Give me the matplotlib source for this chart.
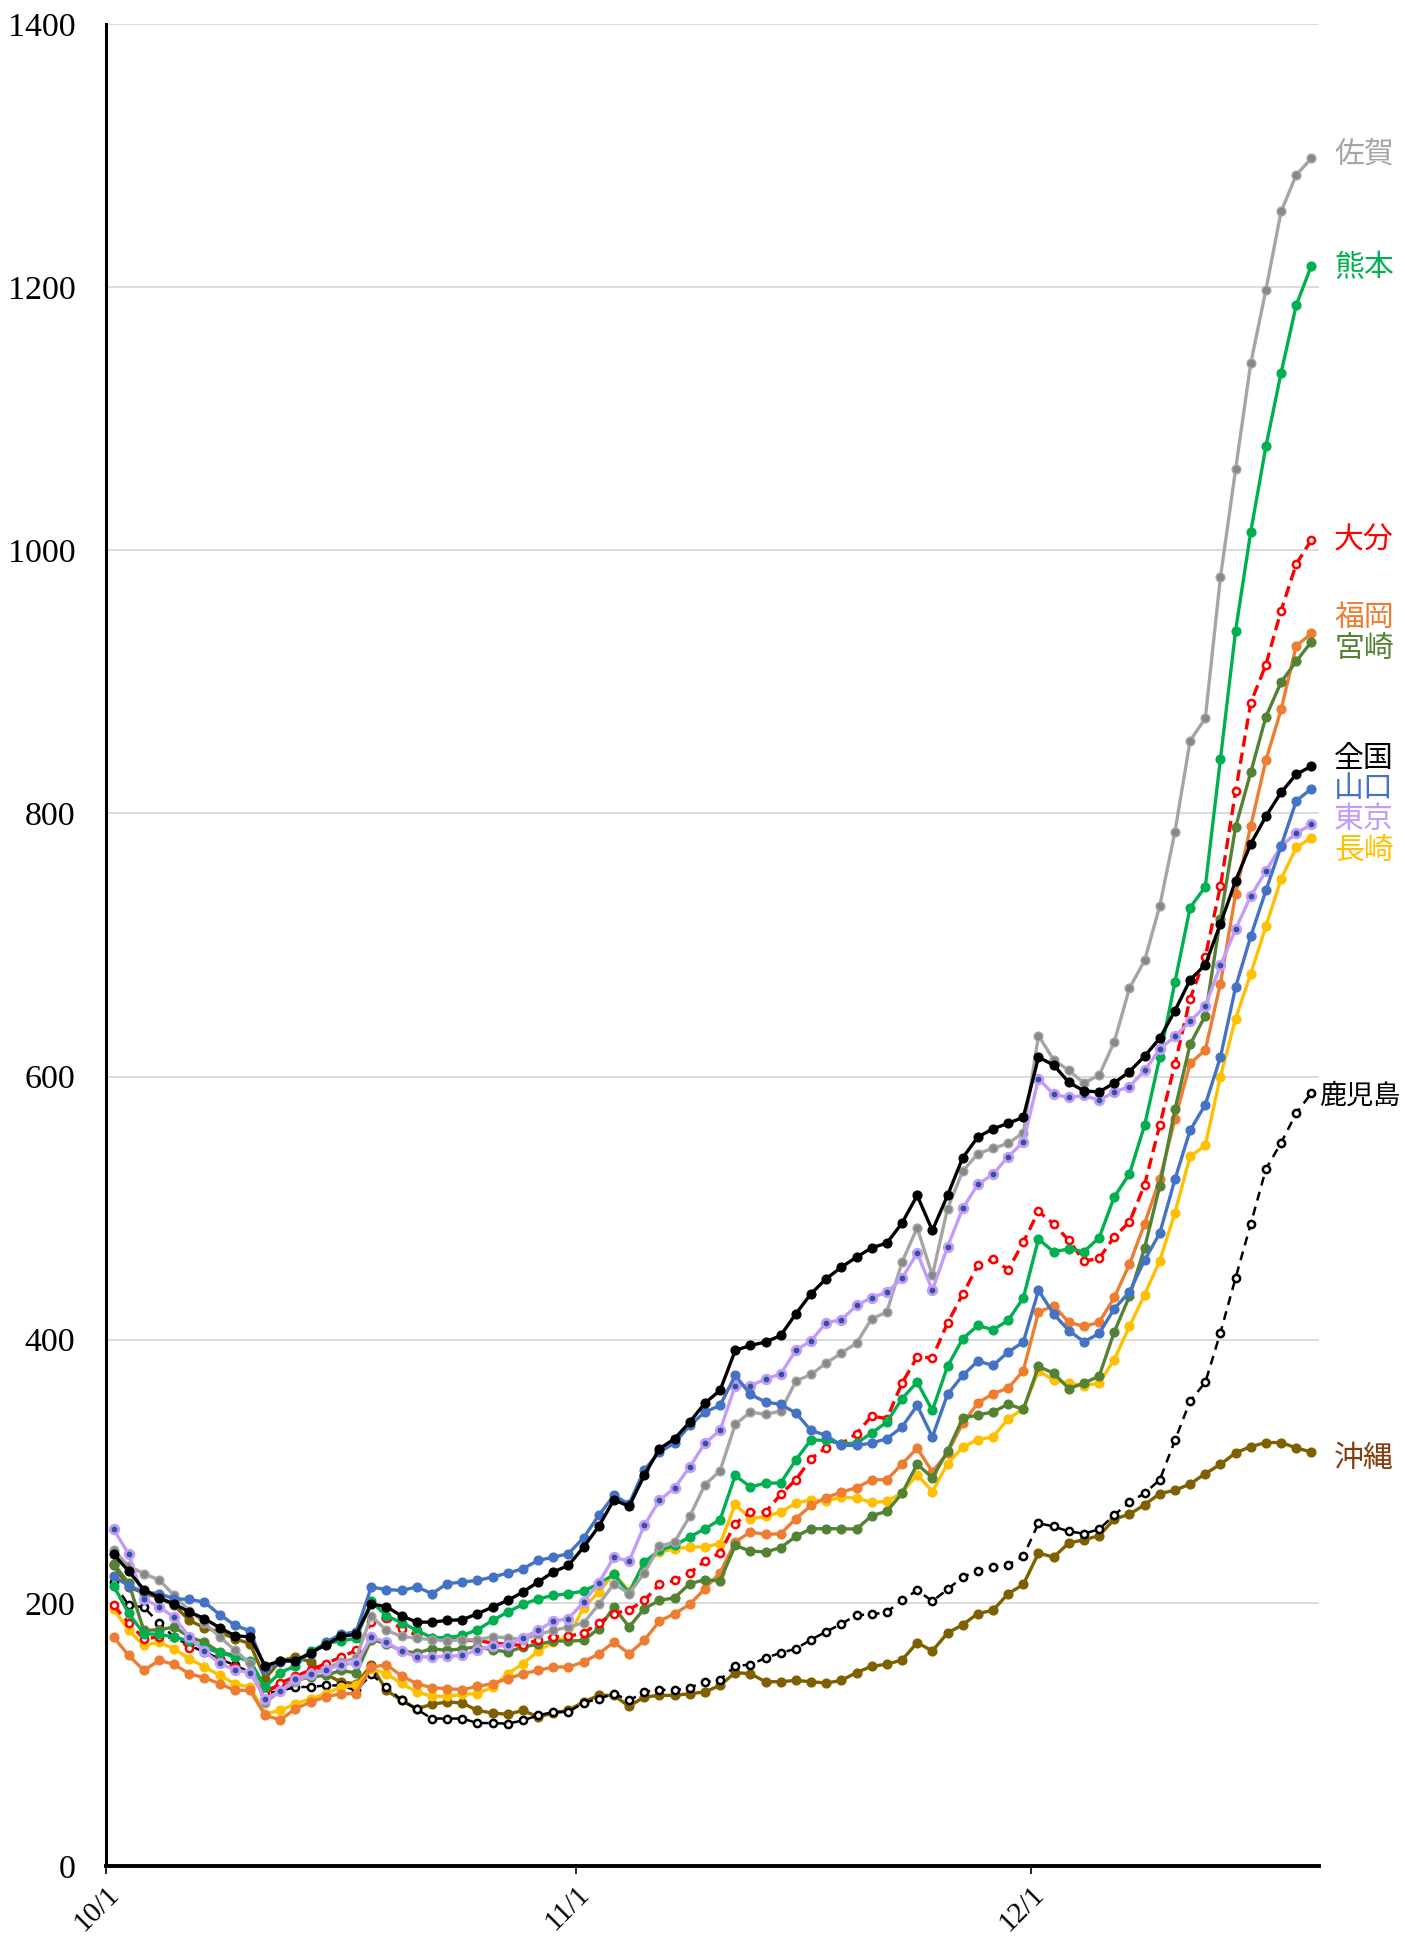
import matplotlib
matplotlib.use("Agg")
import matplotlib.pyplot as plt
import matplotlib.dates as mdates
import numpy as np

# daily values, 10/1 .. 12/19
zenkoku = [237, 224, 210, 204, 199, 193, 188, 181, 175, 174, 152, 156, 156, 162, 168, 174.5, 176, 199, 197, 190,
           185.3, 185.3, 186.6, 187.1, 191.7, 196.7, 201.8, 208.2, 215.8, 223.4, 228.4, 242.3, 258, 278.3, 273.3, 296.8, 317, 324.7, 337.3, 351.8,
           361.4, 391.8, 395.6, 398.2, 403.2, 419.7, 434.9, 446.3, 455.1, 462.7, 469.8, 473.4, 488.6, 509.6, 483, 509.6, 538.2, 554, 560.3, 564.4,
           569.1, 614.7, 608.7, 595.6, 589, 588.3, 595.1, 603.8, 615.5, 629.1, 650.1, 673.5, 684.9, 716.2, 748.8, 776.9, 797.8, 816, 829.7, 835.9]
yamaguchi = [220, 213, 208, 207, 203, 202.6, 200.5, 191, 183, 178.5, 150, 155, 156, 161, 170, 176, 178, 212, 210, 209.4,
             212, 207, 214.5, 215.8, 217, 219.6, 222.6, 225.9, 232.2, 234.7, 237.3, 249.4, 266.4, 281.6, 275, 301, 314.5, 321.4, 334.8, 345,
             350, 372.8, 358.4, 352.6, 350.8, 344.2, 331, 327.2, 319.6, 319.6, 321.4, 324.7, 333.6, 350, 326, 358.4, 372.8, 383.7, 380.4, 390.6,
             398.2, 437.5, 419.5, 406.9, 398.4, 404.7, 423.6, 436.2, 460.5, 481, 521.9, 559.1, 578.6, 614.8, 668, 706.7, 741.5, 775.2, 809.5, 818.8]
tokyo = [256, 237, 203, 197, 189, 174, 163, 154, 149, 147, 127, 133, 142, 146, 149, 153, 154, 174, 170, 163,
         159, 158.8, 159.3, 160, 164.3, 166.9, 167.6, 173.5, 179, 186.1, 187.9, 200.6, 215, 234.8, 231.5, 258.8, 277.8, 287.4, 303.2, 321.4,
         331, 365, 365, 370, 374, 392, 399, 413, 415, 426, 432, 436, 446.5, 466, 437.5, 470.5, 499.7, 518, 525.7, 539.2,
         550.2, 598.4, 586.4, 584.2, 585.6, 582, 588.3, 592.4, 604.6, 620.9, 630.5, 641.9, 653.6, 684.4, 712.1, 737.1, 756.2, 775.2, 785, 791.6]
nagasaki = [195.5, 179, 167.6, 170, 165, 157.5, 151.2, 144.8, 138.5, 136, 115.5, 118.2, 123.3, 127, 130.9, 136, 137.2, 149.9, 146, 138.7,
            132.2, 128.9, 128.9, 130.4, 130.9, 136, 146.1, 153.7, 163.3, 170.1, 174.5, 196.2, 208.2, 222.1, 208.9, 229.7, 238.5, 241.1, 242.3, 242.5,
            245, 274.8, 263.9, 265.7, 268.9, 275.8, 278.3, 277.3, 280.4, 279.5, 276.4, 277, 283.6, 297.4, 284.5, 305.7, 318.3, 324, 326.2, 339.8,
            347.3, 376.4, 369.1, 366.9, 365, 366.9, 384.9, 410.1, 434.3, 460, 496.6, 539.3, 547.6, 600, 644.1, 678.1, 714.3, 750.2, 774.1, 781.5]
fukuoka = [173.9, 160, 148.6, 156.2, 153.2, 146, 143, 138.5, 133.4, 133.4, 114.4, 111, 119.5, 124.6, 128.4, 131, 131, 151, 152.9, 144.4,
           138.5, 135.5, 134.7, 134, 136.5, 138.5, 142.3, 146.1, 148.6, 151.2, 151.2, 155, 161.3, 170.1, 161.3, 171.4, 186.1, 191.7, 198.8, 210.7,
           222.8, 246.2, 253.8, 252, 252.5, 263.9, 274, 279.9, 284.2, 287.4, 293.5, 293.5, 305.5, 317.5, 299.6, 314, 336.3, 351.8, 359, 363.1,
           376.5, 421, 425.8, 413.2, 410.1, 413.2, 432.1, 457.3, 488.2, 522.1, 567.5, 610.1, 620.1, 670.7, 738.8, 790.5, 840.5, 879, 927.3, 936.8]
miyazaki = [229.7, 215, 179, 179.5, 181.5, 174, 170, 162.5, 160, 155, 134.7, 136, 141, 143.6, 144.8, 148.6, 146.6, 172, 169, 163.5,
            161.8, 165.1, 163.8, 165.1, 166.4, 164.3, 162.6, 166.4, 168.4, 170.9, 170.9, 171.4, 180.3, 196.7, 181.6, 195.5, 201.8, 203.8, 214.5, 217.5,
            216.7, 243.6, 239.3, 238.6, 241.9, 250.5, 256.3, 256.3, 256.3, 256, 266.2, 269.5, 283.2, 305.4, 295, 315.2, 340.2, 342.8, 345, 351,
            347, 379.6, 374.5, 362.8, 366.9, 372.3, 406, 433, 469.9, 517, 575, 624.5, 646.3, 720, 789.7, 831.3, 873.5, 899.8, 915.6, 930.5]
kumamoto = [213, 192, 176.5, 176, 174, 171, 166, 162, 159, 156, 136, 147, 152, 163, 169, 171, 173, 201, 190, 185,
            179, 173.5, 173.5, 175.2, 179.5, 186.6, 193, 198.8, 203, 205.6, 206.9, 208.9, 214.5, 221.6, 207.4, 231, 239.8, 243.6, 250, 256.3,
            263.1, 296.8, 288, 291, 291, 308.7, 323.9, 323.4, 320.9, 321.4, 329, 337.4, 355.1, 367.8, 346.2, 379.7, 400.7, 410.8, 407.5, 414.6,
            431.8, 476.5, 466.7, 469, 467, 477.4, 508.6, 526, 563, 614.7, 671.8, 728.4, 744.2, 841.4, 939, 1014.2, 1079, 1134.9, 1186.4, 1216.4]
saga = [240, 228, 222, 217.5, 205.6, 194, 184.6, 174, 164, 154, 124, 133, 140, 145, 150, 155, 158, 190, 179, 174.5,
        173, 172, 171, 172, 172, 174, 173.5, 172, 176, 179, 181.6, 184.6, 198.8, 214.5, 207, 222.6, 242.9, 246.2, 265.7, 289.7,
        300.3, 335.6, 345, 343.2, 345.7, 368.5, 373.6, 382.2, 389.8, 397.4, 415.9, 421, 458.9, 485.1, 448.8, 499.5, 528.1, 541.3, 545.5, 549.2,
        557.3, 631, 612.7, 604.6, 595.1, 601, 626.4, 667.2, 688.2, 729.8, 786.1, 855.3, 872.3, 979.5, 1061.6, 1142.2, 1198.1, 1257.5, 1285.3, 1297.9]
oita = [198, 184.6, 172.7, 174, 173.9, 166, 163.8, 157.5, 151, 146.6, 131, 139, 144, 149, 153.7, 158.8, 163.8, 185.3, 188.6, 180,
        175.5, 173.5, 172.7, 171.4, 171.4, 169.4, 168.4, 167.6, 172, 174, 174.5, 177, 184.6, 191.7, 194.7, 201.8, 214, 217, 222.6, 231.7,
        237.8, 260.1, 268.9, 268.9, 282.4, 293.5, 309.5, 317.9, 320.9, 328.5, 342, 339.9, 367, 386.8, 386.2, 412.6, 434.4, 456.4, 461.5, 453.1,
        474.1, 497.5, 487.9, 475.5, 459.7, 461.8, 478.2, 489.4, 517.8, 563.2, 609.6, 659, 690.9, 744.8, 816.9, 884.1, 913.1, 954.2, 989.6, 1007.9]
kagoshima = [215.7, 198, 196.7, 184.6, 173.9, 167.6, 162.5, 157.5, 152.4, 147.4, 131, 133, 136, 136, 137.2, 137.2, 133.4, 145.6, 136, 126,
             119, 112, 112, 112, 108.6, 108.6, 108.1, 110.6, 114.4, 117, 117, 124, 127, 130.9, 125.8, 132.2, 134, 133.4, 135.5, 139.8,
             141.5, 152, 153, 158, 162, 165, 172, 178, 184, 190.6, 191.2, 192.8, 202.2, 209.4, 201.3, 210.1, 219.6, 224.3, 227.4, 229,
             235.3, 260.5, 258, 254.2, 252.6, 255.8, 266.8, 276.3, 283.3, 293.5, 323.5, 353.4, 367.5, 405.4, 447, 488, 529.7, 549.6, 572.2, 587.4]
okinawa = [228.4, 212, 207.4, 203.8, 198, 186.6, 181, 177.7, 172.7, 168.9, 142.3, 156, 158.7, 155, 145.6, 139.8, 138.5, 152.4, 133.4, 125.8,
           119.5, 122.8, 124.6, 123.8, 118.2, 116.2, 115.2, 118.2, 113.2, 116.2, 118.2, 124.6, 129.6, 129.6, 121.3, 128.4, 129.6, 129.6, 130.9, 132.2,
           137.2, 147, 146, 140, 140, 141, 140, 139, 141, 147, 151.7, 153.3, 156.5, 169.7, 163.4, 177, 183.3, 191.8, 194.3, 206.9,
           213.9, 237.8, 234.7, 245.4, 247.9, 251, 263.6, 267.3, 274.5, 283, 285.5, 290.3, 298.2, 305.2, 314, 318.7, 321.8, 321.8, 317.7, 314.6]

start = np.datetime64("2020-10-01")
dates = start + np.arange(len(zenkoku)).astype("timedelta64[D]") + np.timedelta64(12, "h")

plt.rcParams["font.family"] = ["Liberation Serif", "Noto Sans CJK JP"]

fig = plt.figure(figsize=(14.05, 19.37), dpi=100)
ax = fig.add_axes([0.0754, 0.0367, 0.8634, 0.9509])

# (values, label, line colour, style, marker face, marker edge, label colour, label y)
series = [
    (okinawa, "沖縄", "#7F6000", "-", "#7F6000", "#7F6000", "#843C0C", 310),
    (kagoshima, "鹿児島", "black", (0, (3.6, 2.6)), "white", "black", "black", 585),
    (nagasaki, "長崎", "#FFC000", "-", "#FFC000", "#FFC000", "#FFC000", 772),
    (fukuoka, "福岡", "#ED7D31", "-", "#ED7D31", "#ED7D31", "#ED7D31", 949),
    (miyazaki, "宮崎", "#548235", "-", "#548235", "#548235", "#548235", 925),
    (oita, "大分", "#FF0000", (0, (3.4, 1.8)), "white", "#FF0000", "#FF0000", 1008),
    (kumamoto, "熊本", "#00B050", "-", "#00B050", "#00B050", "#00B050", 1215),
    (saga, "佐賀", "#A5A5A5", "-", "#888888", "#A5A5A5", "#A5A5A5", 1301),
    (tokyo, "東京", "#C39BFA", "-", "#2F5597", "#C39BFA", "#C39BFA", 795),
    (yamaguchi, "山口", "#4472C4", "-", "#4472C4", "#4472C4", "#4472C4", 819),
    (zenkoku, "全国", "black", "-", "black", "black", "black", 842),
]

x0 = mdates.date2num(start)
for vals, name, col, ls, mfc, mec, lcol, ly in series:
    lw = 2.4
    ms = 6.3
    mew = 1.0
    if name in ("大分", "鹿児島"):
        ms = 5.2
        mew = 1.8
    if name == "鹿児島":
        lw = 1.8
    if name == "東京":
        mew = 2.0
        ms = 6.2
    ax.plot(dates, vals, color=col, linestyle=ls, linewidth=lw, marker="o",
            markersize=ms, markerfacecolor=mfc, markeredgecolor=mec, markeredgewidth=mew)
    if name == "鹿児島":
        lx, fs = x0 + 80.0, 19.5
    else:
        lx, fs = x0 + 81.0, 21.5
    ax.text(lx, ly, name, color=lcol, fontsize=fs, va="center", ha="left",
            family=["Noto Sans CJK JP"], clip_on=False)

ax.set_xlim(start, start + np.timedelta64(80, "D"))
ax.set_ylim(0, 1400)
ax.set_yticks(np.arange(0, 1401, 200))
ax.yaxis.grid(True, color="#D9D9D9", linewidth=1.3)
ax.set_axisbelow(True)

ax.xaxis.set_major_locator(mdates.MonthLocator())
ax.xaxis.set_major_formatter(mdates.DateFormatter("%-m/%-d"))
for lab in ax.get_xticklabels():
    lab.set_rotation(45)
    lab.set_ha("right")
    lab.set_rotation_mode("anchor")

ax.tick_params(axis="y", length=0, pad=22, labelsize=24.5)
ax.tick_params(axis="x", length=6, width=1.2, direction="out", pad=5, labelsize=21)

for s in ("top", "right"):
    ax.spines[s].set_visible(False)
ax.spines["left"].set_linewidth(2.2)
ax.spines["bottom"].set_linewidth(2.8)

fig.savefig("out.png", dpi=100)
